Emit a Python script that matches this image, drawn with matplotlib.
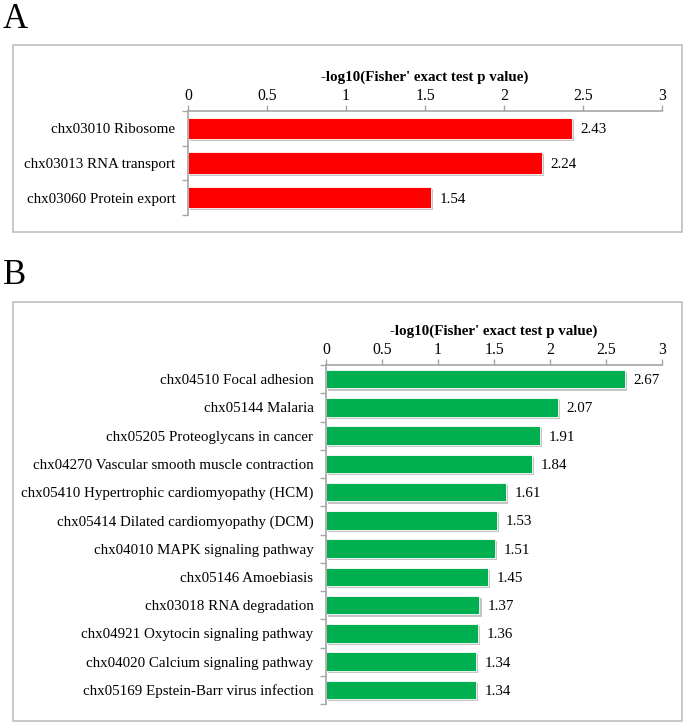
import matplotlib
matplotlib.use('Agg')
import matplotlib.pyplot as plt
import matplotlib.patheffects as pe
from matplotlib.patches import Rectangle
import numpy as np

plt.rcParams['font.family'] = ['Liberation Serif', 'DejaVu Serif']

# panel A data
a_terms = ["chx03010 Ribosome", "chx03013 RNA transport", "chx03060 Protein export"]
a_values = [2.43, 2.24, 1.54]

# panel B data
b_terms = [
    "chx04510 Focal adhesion",
    "chx05144 Malaria",
    "chx05205 Proteoglycans in cancer",
    "chx04270 Vascular smooth muscle contraction",
    "chx05410 Hypertrophic cardiomyopathy (HCM)",
    "chx05414 Dilated cardiomyopathy (DCM)",
    "chx04010 MAPK signaling pathway",
    "chx05146 Amoebiasis",
    "chx03018 RNA degradation",
    "chx04921 Oxytocin signaling pathway",
    "chx04020 Calcium signaling pathway",
    "chx05169 Epstein-Barr virus infection",
]
b_values = [2.67, 2.07, 1.91, 1.84, 1.61, 1.53, 1.51, 1.45, 1.37, 1.36, 1.34, 1.34]

x_ticks = [0, 0.5, 1, 1.5, 2, 2.5, 3]
x_ticklabels = ["0", "0.5", "1", "1.5", "2", "2.5", "3"]
axis_title = "-log10(Fisher' exact test p value)"

W, H = 685, 723
GREY = '#A6A6A6'


def px_axes(fig, x0, y0, x1, y1):
    # pixel box (top-left origin) -> figure axes
    return fig.add_axes([x0 / W, 1 - y1 / H, (x1 - x0) / W, (y1 - y0) / H])


def frame(fig, x0, y0, x1, y1):
    fig.patches.append(Rectangle((x0 / W, 1 - y1 / H), (x1 - x0) / W, (y1 - y0) / H,
                                 transform=fig.transFigure, fill=False,
                                 edgecolor='#BFBFBF', linewidth=1.2))


def bar_panel(ax, terms, values, color, height, fs):
    y = np.arange(len(terms))
    ax.barh(y, values, height=height, color=color, edgecolor='white', linewidth=0.6,
            path_effects=[pe.SimplePatchShadow(offset=(1.5, -1.5), shadow_rgbFace='0.55', alpha=0.5),
                          pe.Normal()])
    for yi, v in zip(y, values):
        ax.annotate(f"{v:.2f}", (v, yi), xytext=(6, 0), textcoords='offset points',
                    va='center_baseline', ha='left', fontsize=fs)
    ax.set_xlim(0, 3)
    ax.set_ylim(len(terms) - 0.5, -0.5)
    ax.set_yticks(y)
    ax.set_yticklabels(terms, fontsize=fs)
    ax.set_yticks(np.arange(len(terms) + 1) - 0.5, minor=True)
    ax.tick_params(axis='y', which='major', length=0, pad=9)
    ax.tick_params(axis='y', which='minor', length=4, color=GREY, width=1, direction='out')
    ax.xaxis.tick_top()
    ax.xaxis.set_label_position('top')
    ax.set_xticks(x_ticks)
    ax.set_xticklabels(x_ticklabels, fontsize=fs + 0.5)
    ax.tick_params(axis='x', length=4, color=GREY, width=1, direction='out', pad=1)
    ax.set_xlabel(axis_title, fontsize=fs, fontweight='bold', labelpad=5)
    for s in ['right', 'bottom']:
        ax.spines[s].set_visible(False)
    for s in ['top', 'left']:
        ax.spines[s].set_color(GREY)
        ax.spines[s].set_linewidth(1.2)


fig = plt.figure(figsize=(6.85, 7.23), dpi=100)

frame(fig, 13, 45, 682, 232)
frame(fig, 13, 302, 682, 721)

fig.text(3 / W, 1 - 28 / H, "A", fontsize=25, ha='left', va='baseline')
fig.text(3 / W, 1 - 284 / H, "B", fontsize=25, ha='left', va='baseline')

ax_a = px_axes(fig, 188, 111, 662, 215)
bar_panel(ax_a, a_terms, a_values, '#FF0000', 0.62, 10.8)

ax_b = px_axes(fig, 326, 365, 662, 704)
bar_panel(ax_b, b_terms, b_values, '#00B050', 0.66, 10.8)

fig.savefig('out.png', dpi=100)
